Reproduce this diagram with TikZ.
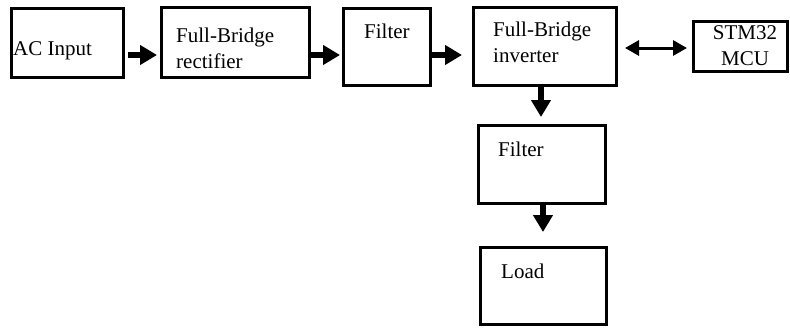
\documentclass[tikz,border=0pt]{standalone}
\usepackage{fontspec}
\setmainfont{Liberation Serif}
\usetikzlibrary{arrows.meta,positioning,calc}

\begin{document}
\begin{tikzpicture}[x=1pt,y=-1pt,
  block/.style={draw,line width=3pt,inner sep=0pt},
  lbl/.style={anchor=base west,inner sep=0pt,align=left,font=\fontsize{21}{26}\selectfont},
  flow/.style={line width=6pt,-{Triangle[length=17pt,width=19pt]}},
  link/.style={line width=3pt,{Triangle[length=14pt,width=15pt]}-{Triangle[length=14pt,width=15pt]}}]
\useasboundingbox (0,0) rectangle (790,327);

% top row
\node[block,minimum width=112pt,minimum height=69pt] (acin) at (67.5,43) {};
\node[block,minimum width=148pt,minimum height=70pt] (rect) at (235.5,42.5) {};
\node[block,minimum width=87pt,minimum height=77pt] (filt1) at (387,47) {};
\node[block,minimum width=143pt,minimum height=78pt] (inv) at (545,46.5) {};
\node[block,minimum width=94pt,minimum height=50pt] (mcu) at (740.5,46.5) {};

% output chain
\node[block,minimum width=127pt,minimum height=78pt] (filt2) at (542,164.5) {};
\node[block,minimum width=126pt,minimum height=77pt] (load) at (543.5,286) {};

% labels (two-line ones sit on their last baseline)
\node[lbl] (acintxt) at (13,55) {AC Input};
\node[lbl] (recttxt) at (176,68) {Full-Bridge\\rectifier};
\node[lbl] (filt1txt) at (364,38) {Filter};
\node[lbl] (invtxt) at (493,62) {Full-Bridge\\inverter};
\node[lbl,anchor=base,align=center] (mcutxt) at (745,65) {STM32\\MCU};
\node[lbl] (filt2txt) at (498,156) {Filter};
\node[lbl] (loadtxt) at (501,278) {Load};

% arrows
\draw[flow,shorten <=3pt,shorten >=3pt] (acin.east |- 0,55) -- (rect.west |- 0,55);
\draw[flow,shorten >=2pt] (rect.east |- 0,55) -- (filt1.west |- 0,55);
\draw[flow,shorten >=10pt] (filt1.east |- 0,55) -- (inv.west |- 0,55);
\draw[link,shorten <=7pt,shorten >=5pt] (inv.east |- 0,48) -- (mcu.west |- 0,48);
\draw[flow,shorten >=7pt] ([xshift=-4pt]inv.south) -- ([xshift=-4pt]inv.south |- filt2.north);
\draw[flow,shorten >=14pt] ([xshift=1pt]filt2.south) -- ([xshift=1pt]filt2.south |- load.north);
\end{tikzpicture}
\end{document}
